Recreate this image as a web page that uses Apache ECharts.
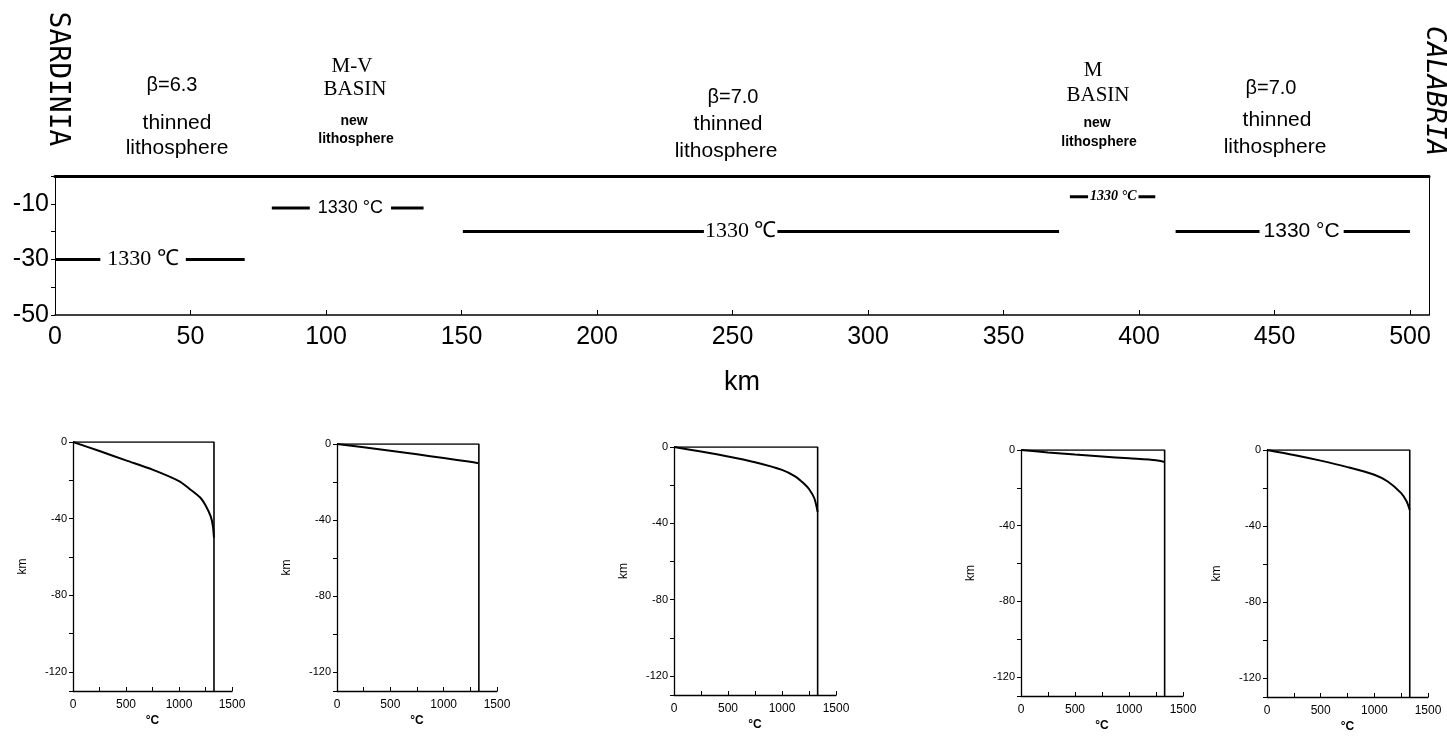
<!DOCTYPE html>
<html>
<head>
<meta charset="utf-8">
<script src="https://cdn.jsdelivr.net/npm/echarts@6/dist/echarts.min.js"></script>
<style>
html,body{margin:0;padding:0;background:#fff;}
#chart{width:1447px;height:741px;}
</style>
</head>
<body>
<div id="chart"></div>
<script>
// ---------------- DATA ----------------
// main cross-section (km along profile vs depth km)
const mainXTicks = [0, 50, 100, 150, 200, 250, 300, 350, 400, 450, 500];
const mainYTicks = [-10, -30, -50];
const mainXMax = 507;
const mainYMin = -50;
// 1330 °C isotherm segments
const segStart = [0, 80, 150.5, 374.5, 413.5];
const segEnd = [70, 136, 370.5, 406, 500];
const segDepth = [-30, -11.5, -20, -7.5, -20];
const segLabelX = [32.5, 109, 253, 390.5, 460];
const segLabelText = ['1330 \u2103', '1330 \u00b0C', '1330 \u2103', '1330 \u00b0C', '1330 \u00b0C'];

// geotherm panels (temperature °C vs depth km)
const smallXTicks = [0, 500, 1000, 1500];
const smallYTicks = [0, -40, -80, -120];
const tMantle = 1330;
const depthBase = -130;
const tMax = 1500;
const geoT1 = [0, 250, 500, 750, 1000, 1100, 1200, 1250, 1300, 1320, 1330];
const geoZ1 = [0, -4.7, -9.6, -14.4, -20.4, -24.5, -29, -33, -39, -44, -50];
const geoT2 = [0, 250, 500, 750, 1000, 1250, 1330];
const geoZ2 = [0, -1.7, -3.5, -5.4, -7.4, -9.4, -10.2];
const geoT3 = [0, 250, 500, 750, 1000, 1125, 1200, 1250, 1300, 1330];
const geoZ3 = [0, -2.4, -5, -8, -12, -15.5, -19, -22, -27, -34];
const geoT4 = [0, 250, 500, 750, 1000, 1250, 1330];
const geoZ4 = [0, -1.3, -2.4, -3.4, -4.4, -5.4, -6.3];
const geoT5 = [0, 250, 500, 750, 1000, 1125, 1250, 1300, 1330];
const geoZ5 = [0, -2.6, -5.6, -9, -13, -16.6, -22.7, -27, -31.5];

// ---------------- LAYOUT / STYLE ----------------
const SANS = '"Liberation Sans", Arial, sans-serif';
const SERIF = '"Liberation Serif", "Times New Roman", serif';
const segLabelFont = [
  {fontFamily: SERIF, fontSize: 22, fontWeight: 'normal', fontStyle: 'normal', pad: [0, 7]},
  {fontFamily: SANS, fontSize: 18, fontWeight: 'normal', fontStyle: 'normal', pad: [0, 8]},
  {fontFamily: SERIF, fontSize: 22, fontWeight: 'normal', fontStyle: 'normal', pad: [0, 1]},
  {fontFamily: SERIF, fontSize: 14, fontWeight: 'bold', fontStyle: 'italic', pad: [0, 2]},
  {fontFamily: SANS, fontSize: 21, fontWeight: 'normal', fontStyle: 'normal', pad: [0, 4]}
];
const panelGrids = [
  {left: 73, top: 442, width: 159, height: 249},
  {left: 337, top: 444, width: 160, height: 247},
  {left: 674, top: 447, width: 162, height: 248},
  {left: 1021, top: 450, width: 162, height: 246},
  {left: 1267, top: 450, width: 161, height: 247}
];
const geoT = [geoT1, geoT2, geoT3, geoT4, geoT5];
const geoZ = [geoZ1, geoZ2, geoZ3, geoZ4, geoZ5];

const chart = echarts.init(document.getElementById('chart'), null, {renderer: 'canvas'});

const grids = [{left: 55, top: 176, width: 1374, height: 139}];
const xAxes = [
  {
    type: 'value', gridIndex: 0, min: 0, max: mainXMax, interval: 50, position: 'bottom',
    splitLine: {show: false},
    axisLine: {onZero: false, lineStyle: {color: '#000', width: 1.5}},
    axisTick: {inside: true, length: 5, lineStyle: {color: '#000'}},
    axisLabel: {
      color: '#000', fontFamily: SANS, fontSize: 25, margin: 10,
      formatter: v => (mainXTicks.indexOf(v) >= 0 ? String(v) : '')
    },
    name: 'km', nameLocation: 'middle', nameGap: 54,
    nameTextStyle: {color: '#000', fontFamily: SANS, fontSize: 27}
  },
  {
    type: 'value', gridIndex: 0, min: 0, max: mainXMax, position: 'top',
    splitLine: {show: false},
    axisLine: {onZero: false, lineStyle: {color: '#000', width: 3}},
    axisTick: {show: false}, axisLabel: {show: false}
  }
];
const yAxes = [
  {
    type: 'value', gridIndex: 0, min: mainYMin, max: 0, interval: 10, position: 'left',
    splitLine: {show: false},
    axisLine: {onZero: false, lineStyle: {color: '#000', width: 1}},
    axisTick: {length: 4, lineStyle: {color: '#000'}},
    axisLabel: {
      color: '#000', fontFamily: SANS, fontSize: 25, margin: 6,
      formatter: v => (mainYTicks.indexOf(v) >= 0 ? String(v) : '')
    }
  },
  {
    type: 'value', gridIndex: 0, min: mainYMin, max: 0, position: 'right',
    splitLine: {show: false},
    axisLine: {show: true, onZero: false, lineStyle: {color: '#000', width: 1}},
    axisTick: {show: false}, axisLabel: {show: false}
  }
];
const series = [];

// isotherm segments
for (let i = 0; i < segStart.length; i++) {
  series.push({
    type: 'line', xAxisIndex: 0, yAxisIndex: 0, symbol: 'none', z: 2,
    lineStyle: {color: '#000', width: 3},
    data: [[segStart[i], segDepth[i]], [segEnd[i], segDepth[i]]],
    silent: true, animation: false
  });
  const f = segLabelFont[i];
  series.push({
    type: 'scatter', xAxisIndex: 0, yAxisIndex: 0, symbolSize: 2, z: 5,
    itemStyle: {color: 'rgba(255,255,255,0)', opacity: 1},
    data: [[segLabelX[i], segDepth[i]]],
    label: {
      show: true, position: 'inside', formatter: segLabelText[i], opacity: 1,
      color: '#000', fontFamily: f.fontFamily, fontSize: f.fontSize,
      fontWeight: f.fontWeight, fontStyle: f.fontStyle,
      backgroundColor: '#fff', padding: f.pad
    },
    silent: true, animation: false
  });
}

// geotherm panels
for (let p = 0; p < 5; p++) {
  const gi = p + 1;       // grid index
  const ai = p + 2;       // axis index (main grid uses two x and two y axes)
  grids.push(panelGrids[p]);
  xAxes.push({
    type: 'value', gridIndex: gi, min: 0, max: tMax, interval: 250, position: 'bottom',
    splitLine: {show: false},
    axisLine: {onZero: false, lineStyle: {color: '#000', width: 1.3}},
    axisTick: {inside: true, length: 4, lineStyle: {color: '#000'}},
    axisLabel: {
      color: '#000', fontFamily: SANS, fontSize: 12, margin: 8,
      formatter: v => (smallXTicks.indexOf(v) >= 0 ? String(v) : '')
    },
    name: '\u00b0C', nameLocation: 'middle', nameGap: 24,
    nameTextStyle: {color: '#000', fontFamily: SANS, fontSize: 12, fontWeight: 'bold'}
  });
  yAxes.push({
    type: 'value', gridIndex: gi, min: depthBase, max: 0, splitNumber: 7, position: 'left',
    splitLine: {show: false},
    axisLine: {onZero: false, lineStyle: {color: '#000', width: 1.3}},
    axisTick: {length: 4, lineStyle: {color: '#000'}},
    axisLabel: {
      color: '#000', fontFamily: SANS, fontSize: 11, margin: 6,
      formatter: v => (smallYTicks.indexOf(v) >= 0 ? String(v) : '')
    },
    name: 'km', nameLocation: 'middle', nameGap: 44, nameRotate: 90,
    nameTextStyle: {color: '#000', fontFamily: SANS, fontSize: 12}
  });
  // box: surface line and mantle adiabat
  series.push({
    type: 'line', xAxisIndex: ai, yAxisIndex: ai, symbol: 'none',
    lineStyle: {color: '#000', width: 1.6},
    data: [[0, 0], [tMantle, 0], [tMantle, depthBase]],
    silent: true, animation: false
  });
  // geotherm
  series.push({
    type: 'line', xAxisIndex: ai, yAxisIndex: ai, symbol: 'none', smooth: 0.25,
    lineStyle: {color: '#000', width: 2},
    data: geoT[p].map((t, k) => [t, geoZ[p][k]]),
    silent: true, animation: false
  });
}

// header texts
function txt(x, y, text, font, rot) {
  return {
    type: 'text', x: x, y: y, rotation: rot || 0, silent: true,
    style: {text: text, font: font, fill: '#000', align: 'center', verticalAlign: 'middle'}
  };
}
const sansBig = '21px ' + SANS;
const sansSmall = 'bold 14px ' + SANS;
const serifMid = '21px ' + SERIF;
const graphics = [
  txt(57, 79, 'SARDINIA', '28px "DejaVu Sans Mono", monospace', -Math.PI / 2),
  txt(1434, 91, 'CALABRIA', 'italic 27px "DejaVu Sans Mono", monospace', -Math.PI / 2),
  txt(172, 85, '\u03b2=6.3', '20px ' + SANS),
  txt(177, 123, 'thinned', sansBig),
  txt(177, 148, 'lithosphere', sansBig),
  txt(352, 66, 'M-V', serifMid),
  txt(355, 89, 'BASIN', serifMid),
  txt(354, 121, 'new', sansSmall),
  txt(356, 139, 'lithosphere', sansSmall),
  txt(733, 97, '\u03b2=7.0', '20px ' + SANS),
  txt(728, 124, 'thinned', sansBig),
  txt(726, 151, 'lithosphere', sansBig),
  txt(1093, 70, 'M', serifMid),
  txt(1098, 95, 'BASIN', serifMid),
  txt(1097, 123, 'new', sansSmall),
  txt(1099, 142, 'lithosphere', sansSmall),
  txt(1271, 88, '\u03b2=7.0', '20px ' + SANS),
  txt(1277, 120, 'thinned', sansBig),
  txt(1275, 147, 'lithosphere', sansBig)
];

chart.setOption({
  backgroundColor: '#fff',
  animation: false,
  grid: grids,
  xAxis: xAxes,
  yAxis: yAxes,
  series: series,
  graphic: graphics
});
</script>
</body>
</html>
